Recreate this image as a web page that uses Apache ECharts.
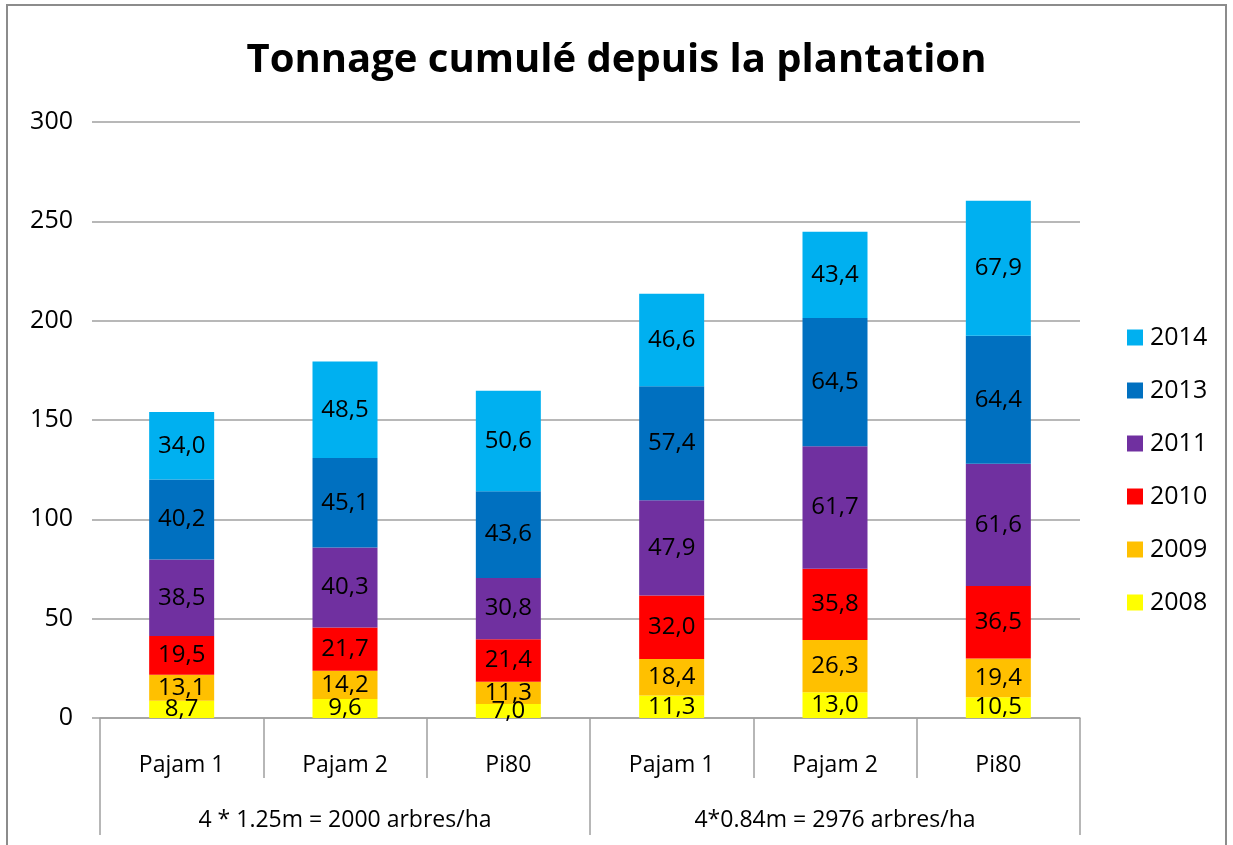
<!DOCTYPE html>
<html>
<head>
<meta charset="utf-8">
<script src="https://cdn.jsdelivr.net/npm/echarts@6/dist/echarts.min.js"></script>
<style>html,body{margin:0;padding:0;background:#fff;}#c{width:1233px;height:845px;}</style>
</head>
<body>
<div id="c"></div>
<script>
const categories = ['Pajam 1', 'Pajam 2', 'Pi80', 'Pajam 1', 'Pajam 2', 'Pi80'];
const groups = ['4 * 1.25m = 2000 arbres/ha', '4*0.84m = 2976 arbres/ha'];
const seriesNames = ['2008', '2009', '2010', '2011', '2013', '2014'];
const v2008 = [8.7, 9.6, 7.0, 11.3, 13.0, 10.5];
const v2009 = [13.1, 14.2, 11.3, 18.4, 26.3, 19.4];
const v2010 = [19.5, 21.7, 21.4, 32.0, 35.8, 36.5];
const v2011 = [38.5, 40.3, 30.8, 47.9, 61.7, 61.6];
const v2013 = [40.2, 45.1, 43.6, 57.4, 64.5, 64.4];
const v2014 = [34.0, 48.5, 50.6, 46.6, 43.4, 67.9];
const yTicks = [0, 50, 100, 150, 200, 250, 300];

const values = [v2008, v2009, v2010, v2011, v2013, v2014];
const colors = ['#FFFF00', '#FFC000', '#FF0000', '#7030A0', '#0070C0', '#00B0F0'];
const FONT = '"Comic Sans MS", "Open Sans", "DejaVu Sans", sans-serif';

const chart = echarts.init(document.getElementById('c'), null, {renderer: 'canvas'});
chart.setOption({
  animation: false,
  backgroundColor: '#fff',
  textStyle: {fontFamily: FONT},
  title: {
    text: 'Tonnage cumulé depuis la plantation',
    left: 'center', top: 36,
    textStyle: {fontFamily: FONT, fontSize: 40, fontWeight: 'bold', color: '#000'}
  },
  graphic: [{
    type: 'rect', silent: true,
    shape: {x: 7, y: 5, width: 1219, height: 860},
    style: {fill: 'none', stroke: '#8c8c8c', lineWidth: 2}
  }],
  legend: {
    orient: 'vertical',
    left: 1122, top: 320,
    itemGap: 28,
    itemWidth: 16, itemHeight: 16,
    icon: 'rect',
    data: seriesNames.slice().reverse(),
    textStyle: {fontFamily: FONT, fontSize: 25, color: '#000', padding: [0, 0, 0, 2]}
  },
  grid: {left: 100, right: 153, top: 122, bottom: 127},
  xAxis: [{
    type: 'category',
    data: categories,
    axisLine: {show: true, lineStyle: {color: '#a0a0a0', width: 1.5}},
    axisTick: {show: true, length: 60, interval: 0, lineStyle: {color: '#a0a0a0', width: 1.5}},
    axisLabel: {interval: 0, margin: 36, fontFamily: FONT, fontSize: 23, color: '#000'}
  }, {
    type: 'category',
    data: groups,
    position: 'bottom',
    offset: 60,
    axisLine: {show: false},
    axisTick: {show: true, length: 57, interval: 0, lineStyle: {color: '#a0a0a0', width: 1.5}},
    axisLabel: {interval: 0, margin: 31, fontFamily: FONT, fontSize: 23, color: '#000'}
  }],
  yAxis: {
    type: 'value',
    min: yTicks[0], max: yTicks[yTicks.length - 1], interval: 50,
    axisLine: {show: false},
    axisTick: {show: true, length: 8, lineStyle: {color: '#a0a0a0', width: 1.5}},
    splitLine: {show: true, lineStyle: {color: '#a0a0a0', width: 1.5}},
    axisLabel: {margin: 27, fontFamily: FONT, fontSize: 25, color: '#000'}
  },
  series: seriesNames.map((name, i) => ({
    name: name,
    type: 'bar',
    stack: 'total',
    barWidth: 65,
    data: values[i],
    itemStyle: {color: colors[i]},
    label: {
      show: true, position: 'inside',
      fontFamily: FONT, fontSize: 24, color: '#000',
      formatter: p => p.value.toFixed(1).replace('.', ',')
    }
  }))
});
</script>
</body>
</html>
